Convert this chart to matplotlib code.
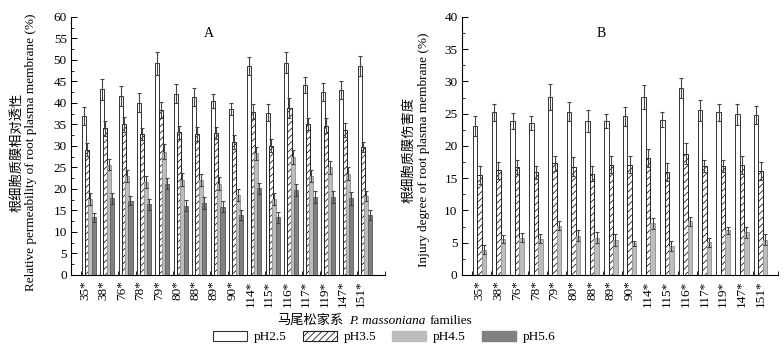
import matplotlib
matplotlib.use("Agg")
import matplotlib.pyplot as plt
import numpy as np
from matplotlib.patches import Patch

plt.rcParams['font.family'] = ['Liberation Serif', 'Noto Sans CJK SC']
plt.rcParams['hatch.linewidth'] = 0.6

families = ['35*', '38*', '76*', '78*', '79*', '80*', '88*', '89*', '90*',
            '114*', '115*', '116*', '117*', '119*', '147*', '151*']

# panel A: relative permeability (%)
a_ph25 = [37.0, 43.2, 41.7, 40.1, 49.2, 42.1, 41.3, 40.5, 38.6, 48.6, 37.7, 49.4, 44.2, 42.6, 43.0, 48.6]
a_ph25_err = [2.1, 2.4, 2.3, 2.3, 2.6, 2.2, 2.1, 1.6, 1.5, 2.2, 2.0, 2.4, 1.9, 2.1, 2.0, 2.3]
a_ph35 = [29.1, 34.1, 35.0, 32.7, 38.4, 33.2, 32.8, 33.0, 31.0, 38.0, 30.1, 38.8, 35.1, 34.7, 33.7, 29.8]
a_ph35_err = [1.5, 1.8, 1.7, 1.4, 1.9, 1.5, 1.7, 1.3, 1.6, 1.8, 1.5, 2.3, 1.3, 1.7, 1.6, 1.2]
a_ph45 = [17.6, 25.6, 23.0, 21.7, 28.7, 22.1, 22.1, 21.2, 18.6, 28.3, 17.6, 27.5, 23.0, 25.0, 23.5, 18.4]
a_ph45_err = [1.4, 1.3, 1.4, 1.4, 1.7, 1.5, 1.4, 1.5, 1.3, 1.5, 1.4, 1.6, 1.4, 1.5, 1.5, 1.2]
a_ph56 = [13.4, 17.8, 17.3, 16.4, 21.2, 16.1, 16.7, 15.9, 14.0, 20.2, 13.4, 19.8, 18.1, 18.1, 17.8, 14.0]
a_ph56_err = [1.1, 1.3, 1.1, 1.2, 1.3, 1.3, 1.4, 1.2, 1.1, 1.3, 1.2, 1.4, 1.4, 1.4, 1.6, 1.1]

# panel B: injury degree (%)
b_ph25 = [23.1, 25.2, 23.9, 23.5, 27.6, 25.3, 23.9, 23.9, 24.6, 27.6, 24.1, 29.0, 25.5, 25.2, 24.9, 24.8]
b_ph25_err = [1.5, 1.3, 1.2, 1.1, 2.0, 1.5, 1.7, 1.1, 1.5, 1.8, 1.2, 1.5, 1.6, 1.3, 1.6, 1.4]
b_ph35 = [15.5, 16.2, 16.8, 15.9, 17.3, 16.8, 15.7, 17.1, 17.1, 18.1, 16.0, 18.8, 16.9, 16.9, 17.1, 16.1]
b_ph35_err = [1.4, 1.3, 1.1, 1.0, 1.2, 1.5, 1.2, 1.3, 1.3, 1.4, 1.4, 1.6, 1.0, 1.0, 1.4, 1.4]
b_ph45 = [3.9, 5.6, 5.8, 5.6, 7.6, 6.1, 5.8, 5.4, 4.9, 8.0, 4.5, 8.3, 5.1, 6.9, 6.6, 5.5]
b_ph45_err = [0.7, 0.6, 0.7, 0.7, 0.7, 0.8, 0.9, 0.9, 0.4, 0.8, 0.8, 0.7, 0.7, 0.6, 0.8, 0.8]

fig = plt.figure(figsize=(7.84, 3.53), dpi=100)
axA = fig.add_axes([0.0906, 0.221, 0.4005, 0.731])
axB = fig.add_axes([0.589, 0.221, 0.4035, 0.731])

styles = [dict(color='white', edgecolor='#333333', hatch=None),
          dict(color='white', edgecolor='#222222', hatch='/////'),
          dict(color='#bdbdbd', edgecolor='#999999', hatch=None),
          dict(color='#808080', edgecolor='#666666', hatch=None)]

x = np.arange(len(families))
ekw = dict(ecolor='#444444', elinewidth=0.8, capsize=1.6, capthick=0.8)


def draw(ax, series, errs, offsets, w, label_off, ylim, xlim, title):
    for k, (vals, err) in enumerate(zip(series, errs)):
        st = styles[k]
        ax.bar(x + offsets[k], vals, w, yerr=err, color=st['color'],
               edgecolor=st['edgecolor'], hatch=st['hatch'], linewidth=0.7,
               error_kw=ekw, zorder=2 + k)
    ax.set_xlim(*xlim)
    ax.set_ylim(*ylim)
    ax.spines['top'].set_visible(False)
    ax.spines['right'].set_visible(False)
    ax.spines['left'].set_linewidth(0.8)
    ax.spines['bottom'].set_linewidth(0.8)
    ax.set_yticks(np.arange(ylim[0], ylim[1] + 1, 5))
    ax.set_yticks(np.arange(ylim[0], ylim[1] + 1, 2.5), minor=True)
    ax.tick_params(axis='y', which='major', direction='in', length=4, width=0.7, labelsize=9.5, pad=3)
    ax.tick_params(axis='y', which='minor', direction='in', length=2, width=0.6)
    ax.set_xticks(x + label_off)
    ax.set_xticklabels(families, rotation=90, fontsize=9.5)
    ax.tick_params(axis='x', which='major', length=0, pad=4)
    edges = list(x + offsets[0] - w / 2 - 0.03) + [xlim[1] - 0.02]
    ax.set_xticks(edges, minor=True)
    ax.tick_params(axis='x', which='minor', direction='in', length=3, width=0.6)
    ax.text(0.44, 0.96, title, transform=ax.transAxes, ha='center', va='top', fontsize=10)


draw(axA, [a_ph25, a_ph35, a_ph45, a_ph56],
     [a_ph25_err, a_ph35_err, a_ph45_err, a_ph56_err],
     [-0.27, -0.09, 0.09, 0.27], 0.22, -0.2, (0, 60), (-0.96, 16.1), 'A')
draw(axB, [b_ph25, b_ph35, b_ph45],
     [b_ph25_err, b_ph35_err, b_ph45_err],
     [-0.24, 0.0, 0.24], 0.24, 0.0, (0, 40), (-0.95, 15.93), 'B')

# y labels
fig.text(0.021, 0.569, '根细胞质膜相对透性', rotation=90, ha='center', va='center', fontsize=9.5)
fig.text(0.040, 0.569, 'Relative permeability of root plasma membrane (%)', rotation=90,
         ha='center', va='center', fontsize=9.5)
fig.text(0.522, 0.575, '根细胞质膜伤害度', rotation=90, ha='center', va='center', fontsize=9.5)
fig.text(0.541, 0.575, 'Injury degree of root plasma membrane (%)', rotation=90,
         ha='center', va='center', fontsize=9.5)

# x label
t1 = fig.text(0.353, 0.083, '马尾松家系', ha='left', va='baseline', fontsize=9.5)
t2 = fig.text(0, 0, 'P. massoniana', fontsize=9.5, style='italic', va='baseline')
t3 = fig.text(0, 0, 'families', fontsize=9.5, va='baseline')
fig.canvas.draw()
r = fig.canvas.get_renderer()
bb = t1.get_window_extent(r)
t2.set_position(((bb.x1 + 6) / fig.bbox.width, 0.083))
bb2 = t2.get_window_extent(r)
t3.set_position(((bb2.x1 + 4) / fig.bbox.width, 0.083))

handles = [Patch(facecolor='white', edgecolor='#333333', linewidth=0.8),
           Patch(facecolor='white', edgecolor='#222222', hatch='/////', linewidth=0.8),
           Patch(facecolor='#bdbdbd', edgecolor='#bdbdbd'),
           Patch(facecolor='#808080', edgecolor='#808080')]
fig.legend(handles, ['pH2.5', 'pH3.5', 'pH4.5', 'pH5.6'], loc='center', ncol=4,
           bbox_to_anchor=(0.49, 0.045), frameon=False, fontsize=9.5,
           handlelength=2.6, handleheight=0.8, columnspacing=1.2, handletextpad=0.5)

fig.savefig('out.png', dpi=100)
